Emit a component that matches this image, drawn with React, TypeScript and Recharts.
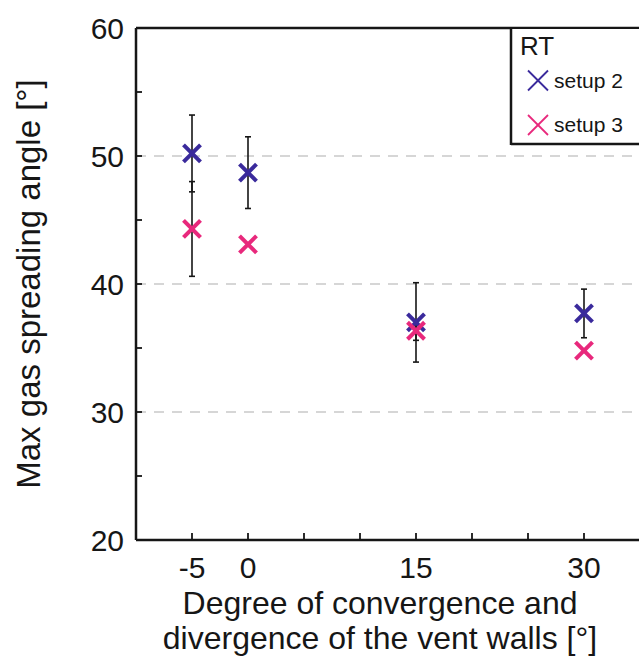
import { ScatterChart, Scatter, XAxis, YAxis, ErrorBar, ReferenceLine } from "recharts";

// vent wall angle (deg) and measured max spreading angle
const degrees = [-5, 0, 15, 30];
const setup2Angle = [50.2, 48.7, 37.0, 37.7];
const setup2Err = [3.0, 2.8, 3.1, 1.9];
const setup3Angle = [44.3, 43.1, 36.35, 34.8];
const setup3Err: (number | null)[] = [3.7, null, 0.75, null];

const xTicks = [-5, 0, 5, 10, 15, 20, 25, 30];
const xTickLabels = [-5, 0, 15, 30];
const yTicks = [20, 25, 30, 35, 40, 45, 50, 55, 60];
const yTickLabels = [20, 30, 40, 50, 60];
const gridValues = [30, 40, 50];

const legendTitle = "RT";
const seriesNames = ["setup 2", "setup 3"];
const seriesColors = ["#3a2a9c", "#e8287c"];

const FONT = '"Liberation Sans", Arial, Helvetica, sans-serif';
const INK = "#161616";

const setup2Data = degrees.map((x, i) => ({ x, y: setup2Angle[i], err: setup2Err[i] }));
const setup3Data = degrees.map((x, i) => ({ x, y: setup3Angle[i], err: setup3Err[i] }));

const makeCross = (color: string, r = 8.5, sw = 4) => (props: any) => {
  const { cx, cy } = props;
  if (cx == null || cy == null) return <g />;
  return (
    <g>
      <line x1={cx - r} y1={cy - r} x2={cx + r} y2={cy + r} stroke={color} strokeWidth={sw} />
      <line x1={cx - r} y1={cy + r} x2={cx + r} y2={cy - r} stroke={color} strokeWidth={sw} />
    </g>
  );
};

const renderXTick = (props: any) => {
  const { x, y, payload } = props;
  const show = xTickLabels.includes(payload.value);
  return (
    <g>
      <line x1={x} y1={y} x2={x} y2={y - 7} stroke={INK} strokeWidth={1.8} />
      {show && (
        <text x={x} y={y + 38} textAnchor="middle" fontSize={30} fill={INK} fontFamily={FONT}>
          {payload.value}
        </text>
      )}
    </g>
  );
};

const renderYTick = (props: any) => {
  const { x, y, payload } = props;
  const show = yTickLabels.includes(payload.value);
  return (
    <g>
      <line x1={x} y1={y} x2={x + 6} y2={y} stroke={INK} strokeWidth={1.8} />
      {show && (
        <text x={x - 12} y={y + 10.5} textAnchor="end" fontSize={30} fill={INK} fontFamily={FONT}>
          {payload.value}
        </text>
      )}
    </g>
  );
};

const renderYTitle = (props: any) => {
  const vb = props.viewBox || { x: 136, y: 28, height: 512 };
  const cx = 40;
  const cy = vb.y + vb.height / 2;
  return (
    <text
      x={cx}
      y={cy}
      textAnchor="middle"
      fontSize={33}
      fill={INK}
      fontFamily={FONT}
      transform={`rotate(-90, ${cx}, ${cy})`}
    >
      Max gas spreading angle [°]
    </text>
  );
};

const renderXTitle = (props: any) => {
  const vb = props.viewBox || { x: 136, y: 540, width: 504 };
  const cx = 380;
  const top = vb.y;
  return (
    <g>
      <text x={cx} y={top + 74} textAnchor="middle" fontSize={32} fill={INK} fontFamily={FONT}>
        Degree of convergence and
      </text>
      <text x={cx} y={top + 109} textAnchor="middle" fontSize={32} fill={INK} fontFamily={FONT}>
        divergence of the vent walls [°]
      </text>
    </g>
  );
};

export default function App() {
  return (
    <div
      style={{
        position: "fixed",
        left: 0,
        top: 0,
        width: 639,
        height: 659,
        overflow: "hidden",
        background: "#fff",
      }}
    >
      <ScatterChart
        width={660}
        height={659}
        margin={{ top: 28, right: 20, bottom: 118, left: 135 }}
      >
        {/* dashed grid */}
        {gridValues.map((v) => (
          <ReferenceLine key={v} y={v} stroke="#d6d6d6" strokeWidth={2} strokeDasharray="10 8" />
        ))}
        <ReferenceLine y={60} stroke={INK} strokeWidth={2.5} />

        <XAxis
          type="number"
          dataKey="x"
          domain={[-10, 35]}
          ticks={xTicks}
          allowDataOverflow
          height={1}
          tickSize={0}
          tickMargin={0}
          tickLine={false}
          axisLine={{ stroke: INK, strokeWidth: 2.5 }}
          tick={renderXTick}
          label={renderXTitle}
        />
        <YAxis
          type="number"
          dataKey="y"
          domain={[20, 60]}
          ticks={yTicks}
          allowDataOverflow
          width={1}
          tickSize={0}
          tickMargin={0}
          tickLine={false}
          axisLine={{ stroke: INK, strokeWidth: 2.5 }}
          tick={renderYTick}
          label={renderYTitle}
        />

        <Scatter
          name={seriesNames[0]}
          data={setup2Data}
          shape={makeCross(seriesColors[0])}
          isAnimationActive={false}
        >
          <ErrorBar dataKey="err" direction="y" width={3} stroke={INK} strokeWidth={1.6} isAnimationActive={false} />
        </Scatter>
        <Scatter
          name={seriesNames[1]}
          data={setup3Data}
          shape={makeCross(seriesColors[1])}
          isAnimationActive={false}
        >
          <ErrorBar dataKey="err" direction="y" width={3} stroke={INK} strokeWidth={1.6} isAnimationActive={false} />
        </Scatter>
      </ScatterChart>

      {/* legend box, open on the right like the reference */}
      <svg
        width={639}
        height={160}
        style={{ position: "absolute", left: 0, top: 0, pointerEvents: "none" }}
      >
        <rect x={511} y={29} width={140} height={115} fill="#fff" />
        <line x1={511} y1={28} x2={511} y2={145} stroke={INK} strokeWidth={2.5} />
        <line x1={511} y1={144} x2={639} y2={144} stroke={INK} strokeWidth={2.5} />
        <text x={520} y={55} fontSize={26} fill={INK} fontFamily={FONT}>
          {legendTitle}
        </text>
        {seriesNames.map((name, i) => {
          const cy = 80.5 + i * 44.5;
          const Cross = makeCross(seriesColors[i], 10, 1.8);
          return (
            <g key={name}>
              <Cross cx={538} cy={cy} />
              <text x={554} y={cy + 7} fontSize={21} fill={INK} fontFamily={FONT}>
                {name}
              </text>
            </g>
          );
        })}
      </svg>
    </div>
  );
}
